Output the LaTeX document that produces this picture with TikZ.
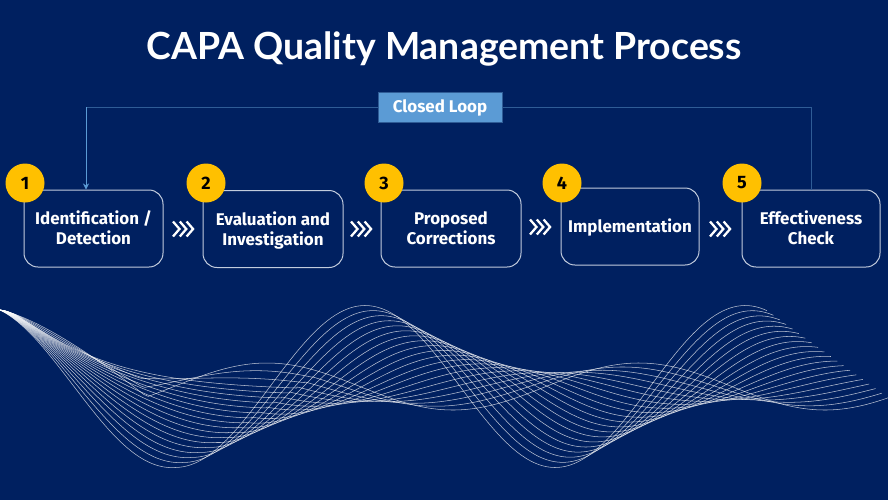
\documentclass[tikz,border=0pt]{standalone}
\usepackage{fontspec}
\usetikzlibrary{arrows.meta}
\setmainfont{Fira Sans}
\newfontfamily\titlefont{Lato}
\definecolor{navy}{HTML}{002060}
\definecolor{sky}{HTML}{5B9BD5}
\definecolor{loopline}{HTML}{2F5C96}
\definecolor{amber}{HTML}{FFC000}
\definecolor{edgeline}{HTML}{C2CCDD}
\newcommand{\lnst}{\rule[-3pt]{0pt}{15pt}}
\newcommand{\lpst}{\rule[-3.7pt]{0pt}{15pt}}
\newcommand{\chevs}[2]{%
  \foreach \k in {0,1,2}{\draw[chev] ({#1+\k*6.8},{#2-7.5}) -- ({#1+\k*6.8+6.5},#2) -- ({#1+\k*6.8},{#2+7.5});}}
\tikzset{
  x=0.75pt,y=-0.75pt,
  declare function={
    ya(\s)=386.5+81*cos(0.947*(\s-175))+(\s<175)*(10*sin(1.02857*\s)*(1-\s/250)+2*(1-\s/175));
    yk(\q)=310+80*(1-exp(-(\q/10)*(\q/10)/(\q+30)*1.25));
    yb(\q)=(\q<147)*(310+87*pow((\q+0.01)/147,1.33))+(\q>=147)*(386.5-23.5*cos(0.968*(\q-267)));
    xb(\s)=320+0.96*(\s-175);
  },
  stepbox/.style={draw=edgeline,line width=0.75pt,rounded corners=10.5pt,align=center,text=white,inner sep=0pt,font=\fontsize{12.7}{15}\selectfont\bfseries},
  badge/.style={circle,fill=amber,minimum size=29.25pt,inner sep=0pt,text=black,font=\fontsize{13.5}{15}\selectfont\bfseries},
  chev/.style={draw=white,line width=1.7pt,miter limit=4},
  loopbox/.style={draw=loopline,fill=sky,line width=0.75pt,text=white,inner sep=0pt,font=\fontsize{12.7}{15}\selectfont\bfseries},
  wave/.style={draw=white,line width=0.4pt,draw opacity=0.72,line join=round},
}
\begin{document}
\begin{tikzpicture}
\useasboundingbox[fill=navy] (0,0) rectangle (888,500);
\node[text=white,font=\titlefont\fontsize{28.05}{30}\selectfont\bfseries] (title) at (444,48.5) {CAPA Quality Management Process};
\node[stepbox,minimum width=104.25pt,minimum height=57.75pt] (b1) at (93.5,228.5) {\lnst Identification /\\\lnst Detection};
\node[stepbox,minimum width=105pt,minimum height=57.75pt] (b2) at (273,229) {\lnst Evaluation and\\\lnst Investigation};
\node[stepbox,minimum width=105pt,minimum height=57.75pt] (b3) at (451,228.5) {\lnst Proposed\\\lnst Corrections};
\node[stepbox,minimum width=103.5pt,minimum height=57.75pt] (b4) at (630,226.5) {\lnst Implementation};
\node[stepbox,minimum width=103.5pt,minimum height=57.75pt] (b5) at (811,228.5) {\lnst Effectiveness\\\lnst Check};
\node[badge] (n1) at (25,183) {1};
\node[badge] (n2) at (206,183) {2};
\node[badge] (n3) at (384,183) {3};
\node[badge] (n4) at (562,183) {4};
\node[badge] (n5) at (742,183) {5};
\node[loopbox,minimum width=93pt,minimum height=22.5pt] (loop) at (440,107) {\lpst Closed Loop};
\coordinate (ltop) at (86,107);
\draw[loopline,line width=0.75pt] (b5.north) |- (loop.east);
\draw[loopline,line width=0.75pt] (loop.west) -- (ltop);
\draw[sky,line width=0.6pt,-{Stealth[length=4.5pt,width=4.5pt]}] (ltop) -- (ltop |- b1.north);
\chevs{173}{229}
\chevs{351}{229}
\chevs{530}{227}
\chevs{710}{229}
\foreach \n in {0,...,19}{
  \pgfmathsetmacro{\t}{\n/19}
  \pgfmathsetmacro{\ta}{min(\t/0.85,1)}
  \pgfmathsetmacro{\sg}{max((\t-0.85)/0.15,0)}
  \draw[wave]
    plot[variable=\u,domain=0:1,samples=70]
      ({\u*(175+145*\t)},{(1-\ta)*ya(175*\u)+\ta*((1-\sg)*yk(298*\u)+\sg*yb(320*\u))})
    -- plot[variable=\s,domain=175:767,samples=160]
      ({(1-\t)*\s+\t*xb(\s)},{(1-\t)*ya(\s)+\t*yb(xb(\s))});
}
\end{tikzpicture}
\end{document}
